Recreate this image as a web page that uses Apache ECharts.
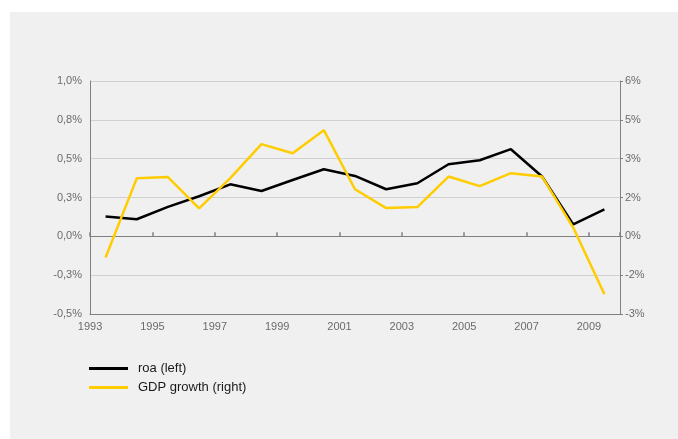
<!DOCTYPE html>
<html>
<head>
<meta charset="utf-8">
<script src="https://cdn.jsdelivr.net/npm/echarts@6/dist/echarts.min.js"></script>
<style>
html,body{margin:0;padding:0;background:#ffffff;}
#chart{width:678px;height:439px;}
</style>
</head>
<body>
<div id="chart"></div>
<script>
var years = ['1993','1994','1995','1996','1997','1998','1999','2000','2001','2002','2003','2004','2005','2006','2007','2008','2009'];
var roa = [0.127, 0.110, 0.190, 0.258, 0.335, 0.292, 0.363, 0.432, 0.389, 0.303, 0.342, 0.464, 0.490, 0.561, 0.385, 0.077, 0.174];
var gdpGrowth = [-0.82, 2.24, 2.29, 1.08, 2.25, 3.56, 3.21, 4.10, 1.82, 1.09, 1.13, 2.31, 1.94, 2.44, 2.31, 0.34, -2.24];
var leftTickLabels = ['-0,5%','-0,3%','0,0%','0,3%','0,5%','0,8%','1,0%'];
var rightTickLabels = ['-3%','-2%','0%','2%','3%','5%','6%'];
var seriesNames = ['roa (left)', 'GDP growth (right)'];

var FONT = '"Liberation Sans", Arial, sans-serif';
var AXIS_GRAY = '#808080';
var LABEL_GRAY = '#6b6b6b';

var chart = echarts.init(document.getElementById('chart'), null, {renderer: 'canvas'});
var option = {
  backgroundColor: '#ffffff',
  animation: false,
  graphic: [{
    type: 'rect', z: -10, silent: true,
    shape: {x: 10, y: 12, width: 668, height: 427},
    style: {fill: '#f0f0f0'}
  }],
  grid: {left: 90, right: 58, top: 81, bottom: 125, containLabel: false},
  legend: {
    orient: 'vertical', left: 89, top: 362, padding: 0,
    itemWidth: 39, itemHeight: 3, itemGap: 6,
    icon: 'rect',
    textStyle: {fontFamily: FONT, fontSize: 13, color: '#1a1a1a', padding: [0, 0, 0, 5]},
    data: [
      {name: seriesNames[0], itemStyle: {color: '#000000'}},
      {name: seriesNames[1], itemStyle: {color: '#ffcc00'}}
    ]
  },
  xAxis: [{
    type: 'category', data: years, boundaryGap: true, position: 'bottom',
    axisLine: {show: true, onZero: true, lineStyle: {color: AXIS_GRAY, width: 1}},
    axisTick: {show: true, inside: true, length: 4, interval: 1, lineStyle: {color: AXIS_GRAY, width: 1.5}},
    axisLabel: {show: false},
    splitLine: {show: false}
  }, {
    type: 'category', data: years, boundaryGap: true, position: 'bottom',
    axisLine: {show: true, onZero: false, lineStyle: {color: AXIS_GRAY, width: 1}},
    axisTick: {show: false},
    axisLabel: {show: true, interval: 1, margin: 7, fontFamily: FONT, fontSize: 11, color: LABEL_GRAY, padding: [0, 31, 0, 0]},
    splitLine: {show: false}
  }],
  yAxis: [{
    type: 'value', position: 'left', min: -0.5, max: 1.0, interval: 0.25,
    axisLine: {show: true, lineStyle: {color: AXIS_GRAY}},
    axisTick: {show: false},
    axisLabel: {
      margin: 8, fontFamily: FONT, fontSize: 11, color: LABEL_GRAY,
      formatter: function (v) { var i = Math.round((v + 0.5) / 0.25); return leftTickLabels[i] || ''; }
    },
    splitLine: {show: true, lineStyle: {color: '#d0d0d0', width: 1}}
  }, {
    type: 'value', position: 'right', min: -3, max: 6, interval: 1.5,
    axisLine: {show: true, lineStyle: {color: AXIS_GRAY}},
    axisTick: {show: true, length: 3, lineStyle: {color: AXIS_GRAY}},
    axisLabel: {
      margin: 5, fontFamily: FONT, fontSize: 11, color: LABEL_GRAY,
      formatter: function (v) { var i = Math.round((v + 3) / 1.5); return rightTickLabels[i] || ''; }
    },
    splitLine: {show: false}
  }],
  series: [{
    name: seriesNames[0], type: 'line', xAxisIndex: 0, yAxisIndex: 0,
    data: roa, symbol: 'none', z: 3,
    lineStyle: {color: '#000000', width: 2.5}, itemStyle: {color: '#000000'}
  }, {
    name: seriesNames[1], type: 'line', xAxisIndex: 0, yAxisIndex: 1,
    data: gdpGrowth, symbol: 'none', z: 4,
    lineStyle: {color: '#ffcc00', width: 2.5}, itemStyle: {color: '#ffcc00'}
  }]
};
chart.setOption(option);
</script>
</body>
</html>
